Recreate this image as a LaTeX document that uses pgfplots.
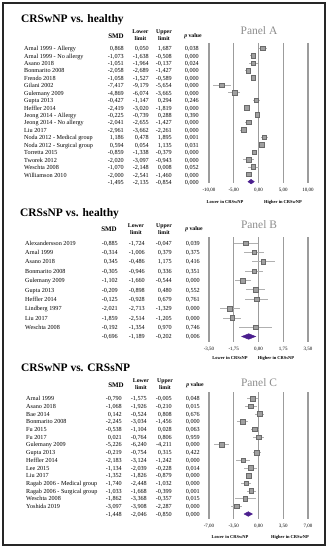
\documentclass[border=0pt]{standalone}
\usepackage{pgfplots}
\pgfplotsset{compat=1.18}
\usepackage{pgfplotstable}
\usepackage{fontspec}
\setmainfont{Liberation Serif}

\definecolor{gridc}{HTML}{9C9C9C}
\definecolor{markf}{HTML}{A0A0A0}
\definecolor{markd}{HTML}{6A6A6A}
\definecolor{errc}{HTML}{B0B0B0}
\definecolor{diam}{HTML}{4B1F8E}
\definecolor{panelc}{HTML}{8C8C8C}

\pgfplotstableread[col sep=semicolon,row sep=\\]{name;smd;lo;hi;p\\%
Arnal 1999 - Allergy;0.868;0.050;1.687;0.038\\%
Arnal 1999 - No allergy;-1.073;-1.638;-0.508;0.000\\%
Asano 2018;-1.051;-1.964;-0.137;0.024\\%
Bonmarito 2008;-2.058;-2.689;-1.427;0.000\\%
Frendo 2018;-1.058;-1.527;-0.589;0.000\\%
Gilani 2002;-7.417;-9.179;-5.654;0.000\\%
Gulemany 2009;-4.869;-6.074;-3.665;0.000\\%
Gupta 2013;-0.427;-1.147;0.294;0.246\\%
Heffler 2014;-2.419;-3.020;-1.819;0.000\\%
Jeong 2014 - Allergy;-0.225;-0.739;0.288;0.390\\%
Jeong 2014 - No allergy;-2.041;-2.655;-1.427;0.000\\%
Liu 2017;-2.961;-3.662;-2.261;0.000\\%
Noda 2012 - Medical group;1.186;0.478;1.895;0.001\\%
Noda 2012 - Surgical group;0.594;0.054;1.135;0.031\\%
Torretta 2015;-0.859;-1.338;-0.379;0.000\\%
Tworek 2012;-2.020;-3.097;-0.943;0.000\\%
Weschta 2008;-1.070;-2.148;0.008;0.052\\%
Williamson 2010;-2.000;-2.541;-1.460;0.000\\%
}\tableA

\pgfplotstableread[col sep=semicolon,row sep=\\]{name;smd;lo;hi;p\\%
Alexandersson 2019;-0.885;-1.724;-0.047;0.039\\%
Arnal 1999;-0.314;-1.006;0.379;0.375\\%
Asano 2018;0.345;-0.486;1.175;0.416\\%
Bonmarito 2008;-0.305;-0.946;0.336;0.351\\%
Gulemany 2009;-1.102;-1.660;-0.544;0.000\\%
Gupta 2013;-0.209;-0.898;0.480;0.552\\%
Heffler 2014;-0.125;-0.928;0.679;0.761\\%
Lindberg 1997;-2.021;-2.713;-1.329;0.000\\%
Liu 2017;-1.859;-2.514;-1.205;0.000\\%
Weschta 2008;-0.192;-1.354;0.970;0.746\\%
}\tableB

\pgfplotstableread[col sep=semicolon,row sep=\\]{name;smd;lo;hi;p\\%
Arnal 1999;-0.790;-1.575;-0.005;0.048\\%
Asano 2018;-1.068;-1.926;-0.210;0.015\\%
Bae 2014;0.142;-0.524;0.808;0.676\\%
Bonmarito 2008;-2.245;-3.034;-1.456;0.000\\%
Fu 2015;-0.538;-1.104;0.028;0.063\\%
Fu 2017;0.021;-0.764;0.806;0.959\\%
Gulemany 2009;-5.226;-6.240;-4.211;0.000\\%
Gupta 2013;-0.219;-0.754;0.315;0.422\\%
Heffler 2014;-2.183;-3.124;-1.242;0.000\\%
Lee 2015;-1.134;-2.039;-0.228;0.014\\%
Liu 2017;-1.352;-1.826;-0.879;0.000\\%
Ragab 2006 - Medical group;-1.740;-2.448;-1.032;0.000\\%
Ragab 2006 - Surgical group;-1.033;-1.668;-0.399;0.001\\%
Weschta 2008;-1.862;-3.368;-0.357;0.015\\%
Yoshida 2019;-3.097;-3.908;-2.287;0.000\\%
}\tableC

\newcommand{\pn}[1]{\pgfmathprintnumber[fixed,fixed zerofill,precision=3,use comma,assume math mode=true]{#1}}

% #1 table, #2 last index, #3 y0, #4 dy, #5 name x, #6 smd rx, #7 lo rx, #8 hi rx, #9 p rx
\newcommand{\tablerows}[9]{%
\foreach \i in {0,...,#2}{%
 \pgfmathsetmacro\yy{-(#3)-(#4)*\i}%
 \pgfplotstablegetelem{\i}{name}\of#1%
 \node[rowtext,anchor=mid west] at (#5,\yy) {\pgfplotsretval};%
 \pgfplotstablegetelem{\i}{smd}\of#1%
 \node[rowtext,anchor=mid east] at (#6,\yy) {\pn{\pgfplotsretval}};%
 \pgfplotstablegetelem{\i}{lo}\of#1%
 \node[rowtext,anchor=mid east] at (#7,\yy) {\pn{\pgfplotsretval}};%
 \pgfplotstablegetelem{\i}{hi}\of#1%
 \node[rowtext,anchor=mid east] at (#8,\yy) {\pn{\pgfplotsretval}};%
 \pgfplotstablegetelem{\i}{p}\of#1%
 \node[rowtext,anchor=mid east] at (#9,\yy) {\pn{\pgfplotsretval}};%
}}

% #1 y (SMD), #2 smd x, #3 lower x, #4 upper x, #5 p x
\newcommand{\headers}[5]{%
 \node[hdrbig] at (#2,-#1) {SMD};
 \node[hdr] at (#3,-#1+0.8) {Lower\\limit};
 \node[hdr] at (#4,-#1+0.8) {Upper\\limit};
 \node[hdr] at (#5,-#1) {{\itshape p} value};
}

\pgfplotsset{
 forestaxis/.style={scale only axis, y dir=reverse,
  axis line style={draw=none}, major tick length=0pt, ytick=\empty,
  xmajorgrids, grid style={draw=gridc, line width=1.1bp}, clip=false,
  xticklabel style={font=\fontsize{5}{6}\selectfont, yshift=-2.0bp},
  /pgf/number format/fixed, /pgf/number format/fixed zerofill,
  /pgf/number format/precision=2, /pgf/number format/use comma,
  /pgf/number format/assume math mode=true},
 forestpts/.style={only marks, mark=square*, mark size=2.3bp,
  mark options={fill=markf, draw=markd, line width=0.4bp},
  error bars/.cd, x dir=both, x explicit, error mark=none,
  error bar style={draw=errc, line width=0.6bp}},
}

\begin{document}
\begin{tikzpicture}[x=1bp,y=1bp,
 rowtext/.style={font=\fontsize{6.2}{7}\selectfont, inner sep=0pt},
 hdr/.style={font=\fontsize{5.8}{7}\selectfont\bfseries, inner sep=0pt, align=center},
 hdrbig/.style={font=\fontsize{7}{8}\selectfont\bfseries, inner sep=0pt},
 ttl/.style={font=\fontsize{11.5}{13}\selectfont\bfseries, inner sep=0pt, anchor=base west},
 pnl/.style={font=\fontsize{11.5}{13}\selectfont, text=panelc, inner sep=0pt},
 dirl/.style={font=\fontsize{4.5}{5}\selectfont\bfseries, inner sep=0pt}]
\path[use as bounding box] (0,0) rectangle (328,-550);
\draw[line width=1.4bp, black!85] (3,-3) rectangle (325,-545);

%% ---------------- Panel A ----------------
\node[ttl] at (21,-23) {CRSwNP vs. healthy};
\headers{36}{116}{140.5}{164}{193}
\node[pnl] at (259,-31) {Panel A};
\tablerows{\tableA}{17}{48.3}{7.44}{24}{124}{149}{172}{199}
\node[rowtext,anchor=mid east] at (124,-182.2) {-1,495};
\node[rowtext,anchor=mid east] at (149,-182.2) {-2,135};
\node[rowtext,anchor=mid east] at (172,-182.2) {-0,854};
\node[rowtext,anchor=mid east] at (199,-182.2) {0,000};
\begin{axis}[forestaxis, at={(209bp,-43bp)}, anchor=north west,
  width=99bp, height=140bp, xmin=-10, xmax=10, ymin=-0.715, ymax=18.18,
  xtick={-10,-5,0,5,10}]
\addplot[forestpts] table[x=smd, y expr=\coordindex,
  x error plus expr=\thisrow{hi}-\thisrow{smd},
  x error minus expr=\thisrow{smd}-\thisrow{lo}] {\tableA};
\addplot[draw=diam, fill=diam, mark=none] coordinates
  {(-2.135,18) (-1.495,17.69) (-0.854,18) (-1.495,18.31)} -- cycle;
\end{axis}
\node[dirl] at (225,-202) {Lower in CRSwNP};
\node[dirl] at (283,-202) {Higher in CRSwNP};

%% ---------------- Panel B ----------------
\node[ttl] at (20,-217) {CRSsNP vs. healthy};
\headers{229.5}{109}{136}{164}{194}
\node[pnl] at (259,-225) {Panel B};
\tablerows{\tableB}{9}{243}{9.35}{25}{118}{145}{172}{200}
\node[rowtext,anchor=mid east] at (118,-336.5) {-0,696};
\node[rowtext,anchor=mid east] at (145,-336.5) {-1,189};
\node[rowtext,anchor=mid east] at (172,-336.5) {-0,202};
\node[rowtext,anchor=mid east] at (200,-336.5) {0,006};
\begin{axis}[forestaxis, at={(209bp,-237bp)}, anchor=north west,
  width=99bp, height=105bp, xmin=-3.5, xmax=3.5, ymin=-0.642, ymax=10.588,
  xtick={-3.5,-1.75,0,1.75,3.5}]
\addplot[forestpts] table[x=smd, y expr=\coordindex,
  x error plus expr=\thisrow{hi}-\thisrow{smd},
  x error minus expr=\thisrow{smd}-\thisrow{lo}] {\tableB};
\addplot[draw=diam, fill=diam, mark=none] coordinates
  {(-1.189,10) (-0.696,9.7) (-0.202,10) (-0.696,10.3)} -- cycle;
\end{axis}
\node[dirl] at (230,-358) {Lower in CRSsNP};
\node[dirl] at (276,-358) {Higher in CRSsNP};

%% ---------------- Panel C ----------------
\node[ttl] at (21,-371) {CRSwNP vs. CRSsNP};
\headers{385}{116}{141}{165}{195}
\node[pnl] at (259,-383) {Panel C};
\tablerows{\tableC}{14}{398.5}{7.7}{26}{122}{147}{172}{200}
\node[rowtext,anchor=mid east] at (122,-514) {-1,448};
\node[rowtext,anchor=mid east] at (147,-514) {-2,046};
\node[rowtext,anchor=mid east] at (172,-514) {-0,850};
\node[rowtext,anchor=mid east] at (200,-514) {0,000};
\begin{axis}[forestaxis, at={(209bp,-392bp)}, anchor=north west,
  width=99bp, height=127bp, xmin=-7, xmax=7, ymin=-0.844, ymax=15.65,
  xtick={-7,-3.5,0,3.5,7}]
\addplot[forestpts] table[x=smd, y expr=\coordindex,
  x error plus expr=\thisrow{hi}-\thisrow{smd},
  x error minus expr=\thisrow{smd}-\thisrow{lo}] {\tableC};
\addplot[draw=diam, fill=diam, mark=none] coordinates
  {(-2.046,15) (-1.448,14.7) (-0.850,15) (-1.448,15.3)} -- cycle;
\end{axis}
\node[dirl] at (230,-537) {Lower in CRSwNP};
\node[dirl] at (290,-537) {Higher in CRSwNP};
\end{tikzpicture}
\end{document}
